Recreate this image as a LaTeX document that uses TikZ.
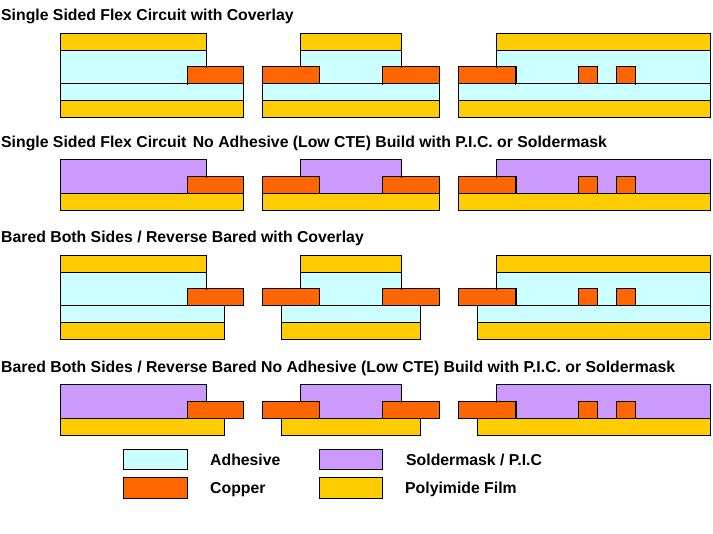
\documentclass[tikz,border=0pt]{standalone}
\usepackage{fontspec}
\setmainfont{Liberation Sans}
\definecolor{adhesivecol}{RGB}{204,255,255}
\definecolor{coppercol}{RGB}{255,102,0}
\definecolor{maskcol}{RGB}{204,153,255}
\definecolor{filmcol}{RGB}{255,204,0}
\tikzset{
    layer/.style={draw=black, line width=1pt},
    adhesive/.style={layer, fill=adhesivecol},
    copper/.style={layer, fill=coppercol},
    mask/.style={layer, fill=maskcol},
    film/.style={layer, fill=filmcol},
    heading/.style={anchor=base west, inner sep=0pt, font=\bfseries\fontsize{15.8}{17}\selectfont},
}
% copper pads of one row, top edge at #1
\newcommand{\copperpads}[1]{
    \foreach \a/\b in {187.5/243.5, 262.5/319.5, 382.5/439.5, 458.5/515.5, 578.5/597.5, 616.5/635.5}
        \draw[copper] (\a,#1) rectangle (\b,#1+17);
    \foreach \a in {206.5, 401.5, 496.5}
        \draw[layer] (\a,#1) -- (\a,#1+1.5);
    \draw[line width=1.5pt] (515.8,#1) -- (515.8,#1+17);
}
\begin{document}
\begin{tikzpicture}[x=1pt, y=-1pt]
    \useasboundingbox (0,0) rectangle (713,534);

    % rows with coverlay
    \foreach \y/\aend/\bstart/\bend/\cstart in {33.5/243.5/262.5/439.5/458.5, 255.5/224.5/281.5/420.5/477.5} {
        \begin{scope}[shift={(0,\y)}]
            \foreach \a/\b in {60.5/206.5, 300.5/401.5, 496.5/710.5} {
                \draw[film] (\a,0) rectangle (\b,17);
                \draw[adhesive] (\a,17) rectangle (\b,50);
            }
            \foreach \a/\b in {60.5/\aend, \bstart/\bend, \cstart/710.5} {
                \draw[adhesive] (\a,50) rectangle (\b,67);
                \draw[film] (\a,67) rectangle (\b,84);
            }
            \copperpads{33}
        \end{scope}
    }
    % small overshoots under the pads of the first row
    \foreach \a in {187.5, 382.5, 515.5, 635.5}
        \draw[layer] (\a,83.5) -- (\a,85);

    % rows with P.I.C. or soldermask
    \foreach \y/\aend/\bstart/\bend/\cstart in {159.5/243.5/262.5/439.5/458.5, 384.5/224.5/281.5/420.5/477.5} {
        \begin{scope}[shift={(0,\y)}]
            \foreach \a/\b in {60.5/206.5, 300.5/401.5, 496.5/710.5}
                \draw[mask] (\a,0) rectangle (\b,34);
            \foreach \a/\b in {60.5/\aend, \bstart/\bend, \cstart/710.5}
                \draw[film] (\a,34) rectangle (\b,51);
            \copperpads{17}
        \end{scope}
    }

    \node[heading] (title1) at (1,20.5) {Single Sided Flex Circuit with Coverlay};
    \node[heading] (title2) at (1,147.5) {Single Sided Flex Circuit\hspace{2pt} No Adhesive (Low CTE) Build with P.I.C. or Soldermask};
    \node[heading] (title3) at (1,242.5) {Bared Both Sides / Reverse Bared with Coverlay};
    \node[heading] (title4) at (1,372.5) {Bared Both Sides / Reverse Bared No Adhesive (Low CTE) Build with P.I.C. or Soldermask};

    % legend
    \draw[adhesive] (123.5,449.5) rectangle (187.5,470);
    \draw[copper] (123.5,477.5) rectangle (187.5,498.5);
    \draw[mask] (319.5,449.5) rectangle (382.5,470);
    \draw[film] (319.5,477.5) rectangle (382.5,498.5);

    \node[heading] (adhesivelabel) at (210,466) {Adhesive};
    \node[heading] (copperlabel) at (210,494) {Copper};
    \node[heading] (masklabel) at (406,466) {Soldermask / P.I.C};
    \node[heading] (filmlabel) at (405,494) {Polyimide Film};
\end{tikzpicture}
\end{document}
